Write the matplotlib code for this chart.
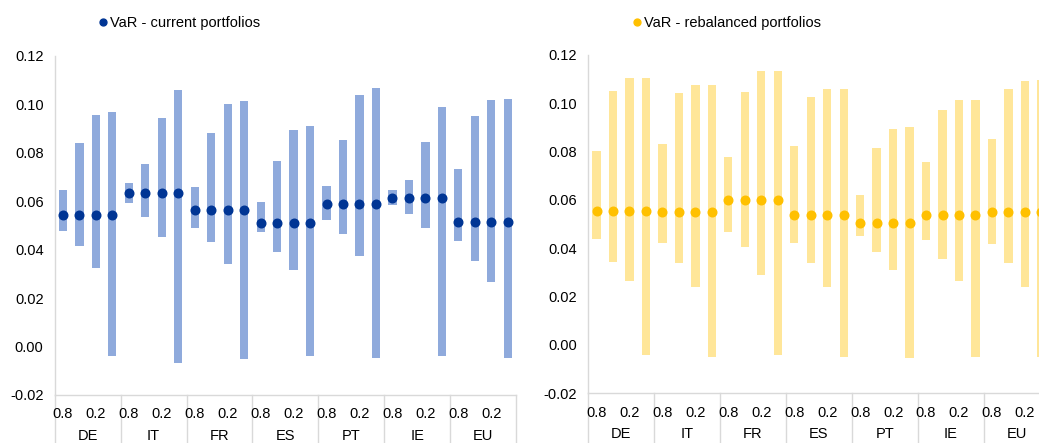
import matplotlib
matplotlib.use("Agg")
import matplotlib.pyplot as plt
import matplotlib.transforms as mtransforms
import numpy as np

plt.rcParams['font.family'] = ['Liberation Sans', 'DejaVu Sans']

groups = ['DE', 'IT', 'FR', 'ES', 'PT', 'IE', 'EU']
sub_labels = ['0.8', '', '0.2', '']

# current portfolios
cur_var = [0.0545, 0.0545, 0.0545, 0.0545,
           0.0635, 0.0635, 0.0635, 0.0635,
           0.0562, 0.0562, 0.0562, 0.0562,
           0.0511, 0.0511, 0.0511, 0.0511,
           0.0590, 0.0590, 0.0590, 0.0590,
           0.0612, 0.0612, 0.0612, 0.0612,
           0.0516, 0.0516, 0.0516, 0.0516]
cur_high = [0.0647, 0.0841, 0.0956, 0.0967,
            0.0675, 0.0755, 0.0943, 0.1058,
            0.0659, 0.0881, 0.1000, 0.1016,
            0.0597, 0.0766, 0.0893, 0.0910,
            0.0664, 0.0853, 0.1040, 0.1069,
            0.0648, 0.0686, 0.0846, 0.0989,
            0.0732, 0.0954, 0.1018, 0.1023]
cur_low = [0.0476, 0.0414, 0.0324, -0.0040,
           0.0591, 0.0534, 0.0453, -0.0068,
           0.0489, 0.0431, 0.0341, -0.0051,
           0.0472, 0.0392, 0.0318, -0.0040,
           0.0523, 0.0465, 0.0376, -0.0047,
           0.0585, 0.0547, 0.0488, -0.0040,
           0.0438, 0.0353, 0.0268, -0.0047]

# rebalanced portfolios
reb_var = [0.0556, 0.0556, 0.0556, 0.0556,
           0.0550, 0.0550, 0.0550, 0.0550,
           0.0601, 0.0601, 0.0601, 0.0601,
           0.0539, 0.0539, 0.0539, 0.0539,
           0.0505, 0.0505, 0.0505, 0.0505,
           0.0539, 0.0539, 0.0539, 0.0539,
           0.0550, 0.0550, 0.0550, 0.0550]
reb_high = [0.0803, 0.1053, 0.1104, 0.1104,
            0.0832, 0.1042, 0.1076, 0.1076,
            0.0779, 0.1047, 0.1133, 0.1133,
            0.0825, 0.1025, 0.1058, 0.1058,
            0.0621, 0.0814, 0.0893, 0.0900,
            0.0757, 0.0974, 0.1014, 0.1014,
            0.0854, 0.1058, 0.1093, 0.1097]
reb_low = [0.0439, 0.0345, 0.0264, -0.0043,
           0.0422, 0.0339, 0.0241, -0.0048,
           0.0469, 0.0406, 0.0291, -0.0043,
           0.0422, 0.0339, 0.0241, -0.0048,
           0.0452, 0.0384, 0.0310, -0.0054,
           0.0435, 0.0356, 0.0265, -0.0048,
           0.0418, 0.0339, 0.0241, -0.0048]

W, H = 1039, 443
fig = plt.figure(figsize=(W / 100, H / 100), dpi=100)

panels = [
    dict(rect=[54.7 / W, 1 - 395 / H, 461.3 / W, 339 / H],
         var=cur_var, hi=cur_high, lo=cur_low,
         bar='#8FAADC', dot='#003594', label='VaR - current portfolios',
         leg=(99 / W, 1 - 23 / H)),
    dict(rect=[588.3 / W, 1 - 393.3 / H, 461.3 / W, 338.3 / H],
         var=reb_var, hi=reb_high, lo=reb_low,
         bar='#FFE699', dot='#FFC000', label='VaR - rebalanced portfolios',
         leg=(633 / W, 1 - 23 / H)),
]

n_sub = len(sub_labels)
n = len(groups) * n_sub
x = np.arange(n)
grey = '#D9D9D9'

for p in panels:
    ax = fig.add_axes(p['rect'])
    hi = np.array(p['hi']); lo = np.array(p['lo'])
    ax.bar(x, hi - lo, bottom=lo, width=0.5, color=p['bar'], zorder=2)
    ln, = ax.plot(x, p['var'], 'o', linestyle='none', color=p['dot'],
                  markersize=6.2, zorder=3, label=p['label'])
    ax.set_xlim(-0.5, n - 0.5)
    ax.set_ylim(-0.02, 0.12)
    ax.set_yticks(np.arange(-0.02, 0.121, 0.02))
    ax.yaxis.set_major_formatter(matplotlib.ticker.FormatStrFormatter('%.2f'))
    ax.set_xticks(x)
    ax.set_xticklabels(sub_labels * len(groups))
    ax.tick_params(axis='both', length=0, labelsize=10.5, colors='#000000')
    ax.tick_params(axis='y', pad=8)
    ax.tick_params(axis='x', pad=9)
    for s in ['top', 'right']:
        ax.spines[s].set_visible(False)
    ax.spines['left'].set_color(grey)
    ax.spines['bottom'].set_color(grey)
    ax.spines['left'].set_linewidth(1.0)
    ax.spines['bottom'].set_linewidth(1.0)
    trans = mtransforms.blended_transform_factory(ax.transData, ax.transAxes)
    for g in range(len(groups) + 1):
        xb = g * n_sub - 0.5
        ax.plot([xb, xb], [0, -0.2], color=grey, lw=1.0, transform=trans,
                clip_on=False, zorder=1)
    for g, name in enumerate(groups):
        xc = g * n_sub + (n_sub - 1) / 2
        ax.annotate(name, xy=(xc, 0), xycoords=trans, xytext=(0, -29.5),
                    textcoords='offset points', ha='center', va='center',
                    fontsize=10.5)
    fig.legend(handles=[ln], loc='center left', bbox_to_anchor=p['leg'],
               frameon=False, fontsize=10.5, handlelength=0.6,
               handletextpad=0.15, borderpad=0, borderaxespad=0,
               markerscale=0.8)

fig.savefig('out.png', dpi=100)
